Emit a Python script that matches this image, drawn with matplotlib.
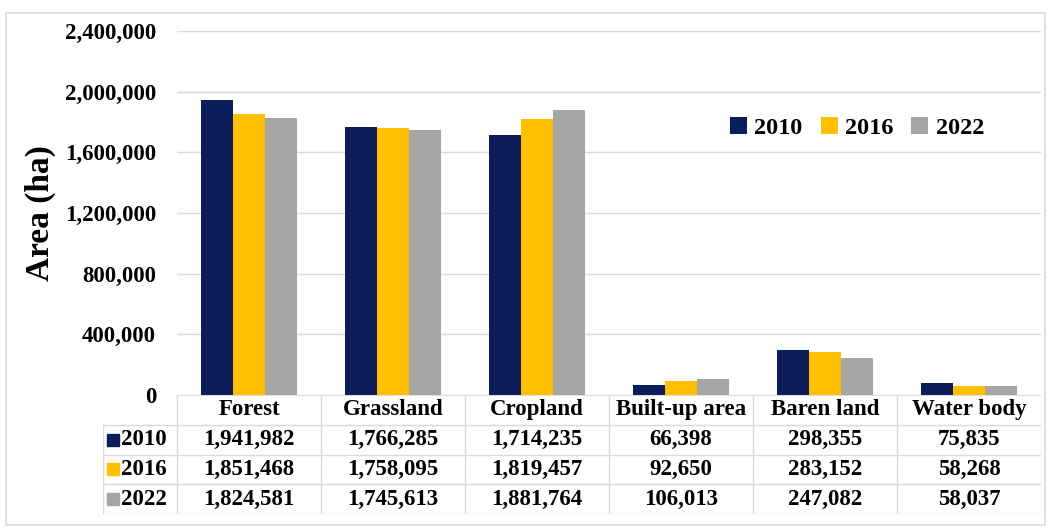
import matplotlib
matplotlib.use("Agg")
import matplotlib.pyplot as plt
from matplotlib.patches import Rectangle

categories = ["Forest", "Grassland", "Cropland", "Built-up area", "Baren land", "Water body"]
years = ["2010", "2016", "2022"]
v2010 = [1941982, 1766285, 1714235, 66398, 298355, 75835]
v2016 = [1851468, 1758095, 1819457, 92650, 283152, 58268]
v2022 = [1824581, 1745613, 1881764, 106013, 247082, 58037]
series = [v2010, v2016, v2022]
colors = ["#0B1E5B", "#FFC000", "#A5A5A5"]
yticks = [0, 400000, 800000, 1200000, 1600000, 2000000, 2400000]

plt.rcParams['font.family'] = ['Liberation Serif', 'DejaVu Serif']
plt.rcParams['font.weight'] = 'bold'

W, H = 1049, 532
fig = plt.figure(figsize=(W / 100, H / 100), dpi=100)

# outer border
fig.patches.append(Rectangle((6 / W, 1 - 525 / H), (1045 - 6) / W, (525 - 13) / H,
                             transform=fig.transFigure, fill=False,
                             edgecolor="#D9D9D9", linewidth=1.2))

x0, x1 = 177, 1041
ytop, yzero, ybot = 31, 395, 514
ax = fig.add_axes([x0 / W, 1 - yzero / H, (x1 - x0) / W, (yzero - ytop) / H])
n = len(categories)
bw = 0.222
for i, (s, c, yr) in enumerate(zip(series, colors, years)):
    ax.bar([k + (i - 1) * bw for k in range(n)], s, width=bw, color=c, label=yr, zorder=3)
ax.set_xlim(-0.5, n - 0.5)
ax.set_ylim(0, 2400000)
ax.set_yticks(yticks)
ax.set_yticklabels([f"{t:,}" for t in yticks], fontsize=16.5, fontweight='bold')
ax.tick_params(axis='y', length=0, pad=15)
ax.set_xticks([])
ax.grid(axis='y', color="#D9D9D9", linewidth=1.0, zorder=0)
for sp in ax.spines.values():
    sp.set_visible(False)
ax.set_ylabel("Area (ha)", fontsize=24, fontweight='bold')
ax.yaxis.set_label_coords(-0.14, 0.5)
leg = ax.legend(loc='center', bbox_to_anchor=(0.787, 0.733), ncol=3, frameon=False,
                handlelength=0.7, handleheight=0.7, handletextpad=0.3, columnspacing=0.75,
                prop={'family': 'Liberation Serif', 'weight': 'bold', 'size': 17.5})

# data table
lx = 103
colw = (x1 - x0) / n
xl = -0.5 - (x0 - lx) / colw
tax = fig.add_axes([lx / W, 1 - ybot / H, (x1 - lx) / W, (ybot - yzero) / H])
tax.set_xlim(xl, n - 0.5)
tax.set_ylim(4, 0)
tax.axis('off')
lc = "#D9D9D9"
tax.plot([-0.5, n - 0.5], [0, 0], color=lc, lw=1.2)
for r in range(1, 5):
    tax.plot([xl, n - 0.5], [r, r], color=lc, lw=1.0)
for k in range(n + 1):
    tax.plot([-0.5 + k, -0.5 + k], [0, 4], color=lc, lw=1.0)
tax.plot([xl, xl], [1, 4], color=lc, lw=1.0)
fs = 16.5
for k, cat in enumerate(categories):
    tax.text(k, 0.5, cat, ha='center', va='center', fontsize=fs, fontweight='bold')
for r, (s, c, yr) in enumerate(zip(series, colors, years)):
    tax.plot([xl + 0.07], [r + 1.5], marker='s', markersize=8.5, color=c, linestyle='none')
    tax.text(xl + 0.125, r + 1.5, yr, ha='left', va='center', fontsize=fs, fontweight='bold')
    for k, v in enumerate(s):
        tax.text(k, r + 1.5, f"{v:,}", ha='center', va='center', fontsize=fs, fontweight='bold')

fig.savefig("out.png", dpi=100)
